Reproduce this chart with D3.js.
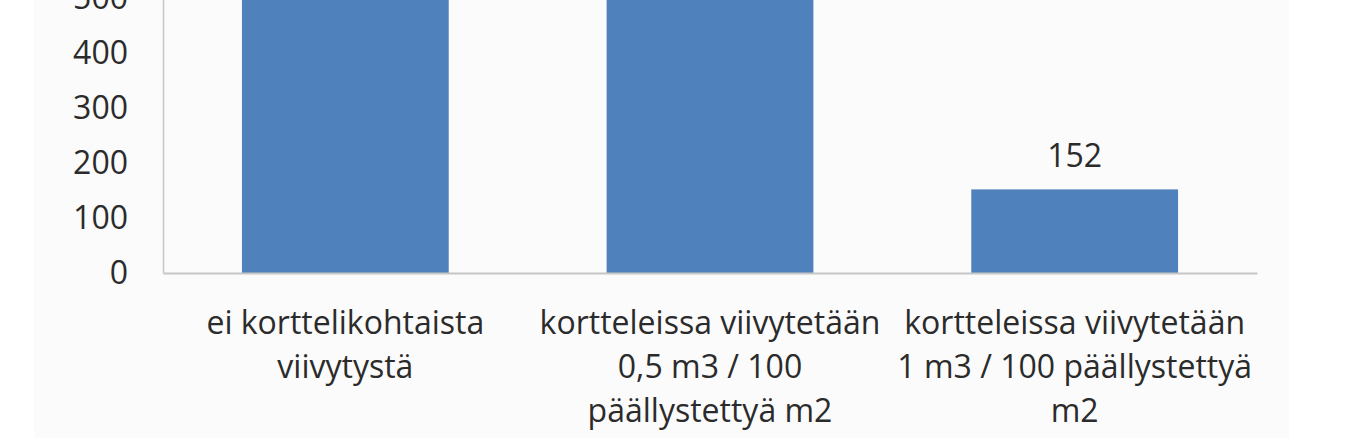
<!DOCTYPE html>
<html>
<head>
<meta charset="utf-8">
<script src="https://cdn.jsdelivr.net/npm/d3@7"></script>
<style>
  html, body { margin: 0; padding: 0; background: #ffffff; }
  svg { display: block; }
  text { font-family: "Open Sans", Lato, sans-serif; fill: #2b2b2b; }
</style>
</head>
<body>
<svg id="chart" width="1367" height="444"></svg>
<script>
// Data (top of chart is cropped in the reference; first two values estimated above view)
const categories = [
  ["ei korttelikohtaista", "viivytystä"],
  ["kortteleissa viivytetään", "0,5 m3 / 100", "päällystettyä m2"],
  ["kortteleissa viivytetään", "1 m3 / 100 päällystettyä", "m2"]
];
const values = [700, 610, 152];
const tickValues = [0, 100, 200, 300, 400, 500];

const svg = d3.select("#chart");
const plot = { left: 163, right: 1257, bottom: 273 };
const FONT = 32;

// chart area background
svg.append("rect").attr("x", 34).attr("y", 0).attr("width", 1255).attr("height", 438)
  .attr("fill", "#fbfbfb");

const x = d3.scaleBand().domain(d3.range(categories.length))
  .range([plot.left, plot.right]).paddingInner(0.433).paddingOuter(0.2165);
const y = d3.scaleLinear().domain([0, 800]).range([plot.bottom, plot.bottom - 8 * 55]);

// y axis
const yAxis = d3.axisLeft(y).tickValues(tickValues).tickSize(0).tickPadding(35);
const gy = svg.append("g").attr("transform", `translate(${plot.left},0)`).call(yAxis);
gy.select(".domain").attr("stroke", "#c6c6c6").attr("stroke-width", 1.5);
gy.selectAll("text").attr("font-size", FONT).attr("fill", "#2b2b2b")
  .style("font-family", "'Open Sans', Lato, sans-serif");

// bars
svg.append("g").selectAll("rect").data(values).join("rect")
  .attr("x", (d, i) => x(i))
  .attr("y", d => y(d))
  .attr("width", x.bandwidth())
  .attr("height", d => y(0) - y(d))
  .attr("fill", "#4f81bd");

// x axis
const xAxis = d3.axisBottom(x).tickSize(0).tickFormat("");
const gx = svg.append("g").attr("transform", `translate(0,${plot.bottom})`).call(xAxis);
gx.select(".domain").attr("stroke", "#c6c6c6").attr("stroke-width", 2);

// category labels
const lab = svg.append("g");
categories.forEach((lines, i) => {
  const cx = x(i) + x.bandwidth() / 2;
  const t = lab.append("text")
    .attr("x", cx)
    .attr("y", 334)
    .attr("text-anchor", "middle")
    .attr("font-size", FONT);
  lines.forEach((ln, j) => {
    t.append("tspan").attr("x", cx).attr("dy", j === 0 ? 0 : 44).text(ln);
  });
});

// data labels (only the one inside the visible crop)
svg.append("g").selectAll("text").data(values.map((v, i) => ({ v, i })).filter(d => y(d.v) - 22 > 30))
  .join("text")
  .attr("x", d => x(d.i) + x.bandwidth() / 2)
  .attr("y", d => y(d.v) - 22)
  .attr("text-anchor", "middle")
  .attr("font-size", FONT)
  .text(d => d.v);
</script>
</body>
</html>
